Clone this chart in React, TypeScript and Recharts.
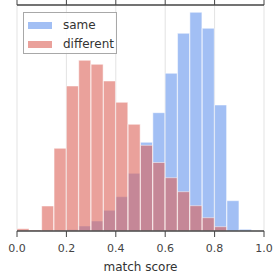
import { BarChart, Bar, XAxis, YAxis, CartesianGrid, Legend } from "recharts";

const binCenters = [
  0.025, 0.075, 0.125, 0.175, 0.225, 0.275, 0.325, 0.375, 0.425, 0.475,
  0.525, 0.575, 0.625, 0.675, 0.725, 0.775, 0.825, 0.875, 0.925, 0.975,
];
const same = [0, 0, 0, 0, 1.3, 5, 10, 20.7, 34.3, 57.7, 88.7, 118.3, 157.7, 197.7, 218.7, 202.7, 126, 30.3, 1.7, 0];
const different = [2.3, 1, 25, 82.7, 145, 170.7, 166.7, 150, 128.7, 106.7, 85.7, 68.5, 53.3, 39.3, 25.3, 13.3, 4.3, 0, 0, 0];
const xTicks = [0, 0.2, 0.4, 0.6, 0.8, 1.0];
const legendOrder = ["same", "different"];

const data = binCenters.map((x, i) => ({ x, same: same[i], different: different[i] }));

const SPINE = "#444";
const FONT = "'DejaVu Sans', sans-serif";

const swatch: Record<string, string> = { same: "#a2bff4", different: "#eaa19b" };

function HistLegend({ payload }: any) {
  const items = [...(payload || [])].sort(
    (a: any, b: any) => legendOrder.indexOf(a.dataKey) - legendOrder.indexOf(b.dataKey)
  );
  return (
    <div
      style={{
        position: "relative",
        width: 94,
        height: 42,
        boxSizing: "border-box",
        border: "1px solid #a8a8a8",
        background: "rgba(255,255,255,0.85)",
        fontFamily: FONT,
        fontSize: 12,
        color: "#333",
      }}
    >
      {items.map((p: any, i: number) => (
        <div key={p.value} style={{ position: "absolute", left: 4, top: 5 + i * 19, height: 14, display: "flex", alignItems: "center" }}>
          <span
            style={{
              display: "inline-block",
              width: 24,
              height: 7,
              background: swatch[p.dataKey] || p.color,
              outline: "1px solid rgba(255,255,255,0.6)",
              marginRight: 11,
            }}
          />
          <span>{p.value}</span>
        </div>
      ))}
    </div>
  );
}

export default function App() {
  return (
    <div style={{ position: "absolute", left: 0, top: 0, width: 280, height: 280, background: "#fff" }}>
      <BarChart
        width={280}
        height={280}
        data={data}
        margin={{ top: 0, right: 16, bottom: 0, left: 17 }}
        barCategoryGap={0}
        barGap={0}
        style={{ fontFamily: FONT }}
      >
        <CartesianGrid xAxisId="bottom" horizontal={false} stroke="#e3e3e3" strokeWidth={1} />
        <XAxis
          xAxisId="top"
          orientation="top"
          type="number"
          dataKey="x"
          domain={[0, 1]}
          ticks={xTicks}
          height={5}
          tickSize={5}
          tickFormatter={() => ""}
          axisLine={{ stroke: SPINE, strokeWidth: 1.5 }}
          tickLine={{ stroke: SPINE, strokeWidth: 1 }}
        />
        <XAxis
          xAxisId="bottom"
          orientation="bottom"
          type="number"
          dataKey="x"
          domain={[0, 1]}
          ticks={xTicks}
          height={49}
          tickSize={6}
          tickMargin={7}
          tickFormatter={(v: number) => v.toFixed(1)}
          tick={{ fontSize: 11, fill: "#444" }}
          axisLine={{ stroke: SPINE, strokeWidth: 1.5 }}
          tickLine={{ stroke: SPINE, strokeWidth: 1 }}
          label={{ value: "match score", position: "insideBottom", offset: 9, fontSize: 12, fill: "#333" }}
        />
        <YAxis yAxisId="left" domain={[0, 226]} width={0} tick={false} tickLine={false} axisLine={{ stroke: SPINE, strokeWidth: 1.5 }} />
        <YAxis
          yAxisId="right"
          orientation="right"
          domain={[0, 226]}
          width={0}
          tick={false}
          tickLine={false}
          axisLine={{ stroke: SPINE, strokeWidth: 1.5 }}
        />
        <Legend
          layout="horizontal"
          verticalAlign="middle"
          align="center"
          wrapperStyle={{ left: 23, top: 12, width: "auto", height: "auto" }}
          content={<HistLegend />}
        />
        <Bar
          xAxisId="top"
          yAxisId="left"
          dataKey="same"
          name="same"
          fill="#6495ed"
          fillOpacity={0.6}
          stroke="#ffffff"
          strokeOpacity={0.5}
          strokeWidth={1}
          isAnimationActive={false}
        />
        <Bar
          xAxisId="bottom"
          yAxisId="left"
          dataKey="different"
          name="different"
          fill="#dc6258"
          fillOpacity={0.6}
          stroke="#ffffff"
          strokeOpacity={0.5}
          strokeWidth={1}
          isAnimationActive={false}
        />
      </BarChart>
    </div>
  );
}
